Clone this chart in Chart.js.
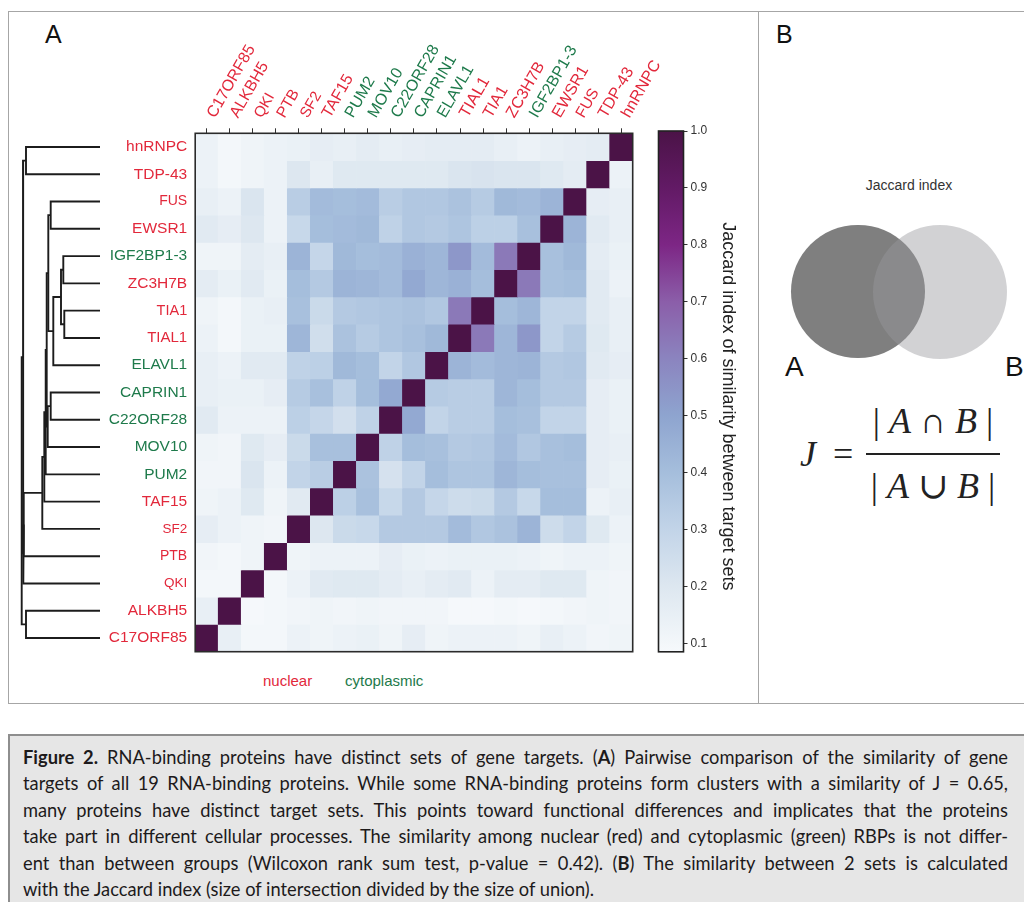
<!DOCTYPE html>
<html>
<head>
<meta charset="utf-8">
<script src="https://cdn.jsdelivr.net/npm/chart.js@4.4.1/dist/chart.umd.min.js"></script>
<style>
  html, body { margin: 0; padding: 0; background: #fff; width: 1024px; height: 902px; overflow: hidden; }
  body { position: relative; font-family: "Liberation Sans", Arial, sans-serif; color: #231f20; }
  .abs { position: absolute; }
  .t { position: absolute; line-height: 1; white-space: nowrap; }
  #boxA { left: 8px; top: 11px; width: 751px; height: 693px; border: 1.5px solid #a6a6a6; box-sizing: border-box; }
  #boxB { left: 757.5px; top: 11px; width: 300px; height: 693px; border: 1.5px solid #a6a6a6; box-sizing: border-box; }
  #caption { left: 8px; top: 734px; width: 1050px; height: 200px; background: #e6e6e6;
             border-top: 2px solid #8e8e8e; border-left: 2px solid #8e8e8e; box-sizing: border-box; }
  #captionText { position: absolute; left: 23px; top: 744px; width: 985px;
                 font-family: Lato, "Open Sans", sans-serif; font-size: 18.3px; color: #1d1a1b; }
  #captionText .ln { height: 26.4px; line-height: 26.4px; white-space: nowrap;
                     text-align: justify; text-align-last: justify; }
  #captionText .ln.last { text-align-last: left; }
  .circle { position: absolute; border-radius: 50%; }
  .math { position: absolute; line-height: 1; white-space: pre; font-family: "Liberation Serif", "DejaVu Serif", serif;
          font-size: 36px; color: #222; }
  .math i { font-style: italic; }
  canvas { position: absolute; }
</style>
</head>
<body>
<div id="boxA" class="abs"></div>
<div id="boxB" class="abs"></div>

<div class="t" style="left:45px; top:21.7px; font-size:25px; color:#111;">A</div>
<div class="t" style="left:776px; top:21.7px; font-size:25px; color:#111;">B</div>

<canvas id="dendro" width="110" height="662" style="left:0; top:0;"></canvas>
<canvas id="heat" width="700" height="662" style="left:0; top:0;"></canvas>
<canvas id="cbar" width="110" height="662" style="left:640px; top:0;"></canvas>

<div class="t" style="left:263px; top:673.3px; font-size:15px; color:#e2283b;">nuclear</div>
<div class="t" style="left:345px; top:673.3px; font-size:15px; color:#1e7a4b;">cytoplasmic</div>

<!-- panel B: Jaccard index schematic -->
<div class="t" style="left:809px; top:178px; width:200px; text-align:center; font-size:14px; color:#333;">Jaccard index</div>
<div class="circle" style="left:791.3px; top:225px; width:133.4px; height:133.4px; background:#7f7f7f;"></div>
<div class="circle" style="left:873px; top:224.7px; width:134px; height:134px; background:rgba(153,153,157,0.44);"></div>
<div class="t" style="left:785px; top:353.4px; font-size:28px; color:#111;">A</div>
<div class="t" style="left:1005px; top:353.4px; font-size:28px; color:#111;">B</div>

<div class="math" style="left:800px; top:435.5px;"><i>J</i></div>
<div class="math" style="left:833px; top:435.5px;">=</div>
<div class="math" style="left:866px; top:403px; width:134px; text-align:center;">| <i>A</i> &#8745; <i>B</i> |</div>
<div class="abs" style="left:866px; top:453.3px; width:134px; height:1.3px; background:#222;"></div>
<div class="math" style="left:866px; top:468px; width:134px; text-align:center;">| <i>A</i> &#8746; <i>B</i> |</div>

<div id="caption" class="abs"></div>
<div id="captionText">
  <div class="ln"><b>Figure 2.</b> RNA-binding proteins have distinct sets of gene targets. (<b>A</b>) Pairwise comparison of the similarity of gene</div>
  <div class="ln">targets of all 19 RNA-binding proteins. While some RNA-binding proteins form clusters with a similarity of J = 0.65,</div>
  <div class="ln">many proteins have distinct target sets. This points toward functional differences and implicates that the proteins</div>
  <div class="ln">take part in different cellular processes. The similarity among nuclear (red) and cytoplasmic (green) RBPs is not differ-</div>
  <div class="ln">ent than between groups (Wilcoxon rank sum test, p-value = 0.42). (<b>B</b>) The similarity between 2 sets is calculated</div>
  <div class="ln last">with the Jaccard index (size of intersection divided by the size of union).</div>
</div>

<script>
// ---- data -----------------------------------------------------------
// proteins in heatmap row order (top to bottom)
const rowNames = ['hnRNPC', 'TDP-43', 'FUS', 'EWSR1', 'IGF2BP1-3', 'ZC3H7B', 'TIA1', 'TIAL1', 'ELAVL1',
  'CAPRIN1', 'C22ORF28', 'MOV10', 'PUM2', 'TAF15', 'SF2', 'PTB', 'QKI', 'ALKBH5', 'C17ORF85'];
// column order (left to right)
const colNames = ['C17ORF85', 'ALKBH5', 'QKI', 'PTB', 'SF2', 'TAF15', 'PUM2', 'MOV10', 'C22ORF28',
  'CAPRIN1', 'ELAVL1', 'TIAL1', 'TIA1', 'ZC3H7B', 'IGF2BP1-3', 'EWSR1', 'FUS', 'TDP-43', 'hnRNPC'];
// cytoplasmic RBPs (all others are nuclear)
const cytoplasmic = ['IGF2BP1-3', 'ELAVL1', 'CAPRIN1', 'C22ORF28', 'MOV10', 'PUM2'];

// Jaccard index, one row per protein in rowNames, columns in colNames order
const jaccardRows = [
  [0.13, 0.10, 0.12, 0.13, 0.14, 0.16, 0.15, 0.17, 0.15, 0.16, 0.17, 0.17, 0.17, 0.15, 0.13, 0.15, 0.16, 0.17, 1.00],
  [0.13, 0.10, 0.12, 0.13, 0.20, 0.15, 0.19, 0.19, 0.19, 0.19, 0.19, 0.21, 0.22, 0.21, 0.21, 0.19, 0.17, 1.00, 0.13],
  [0.15, 0.13, 0.21, 0.13, 0.33, 0.41, 0.40, 0.41, 0.33, 0.36, 0.36, 0.38, 0.34, 0.42, 0.41, 0.44, 1.00, 0.16, 0.15],
  [0.18, 0.16, 0.20, 0.13, 0.28, 0.40, 0.41, 0.42, 0.31, 0.36, 0.35, 0.37, 0.32, 0.32, 0.39, 1.00, 0.44, 0.18, 0.15],
  [0.12, 0.12, 0.17, 0.15, 0.44, 0.29, 0.42, 0.40, 0.41, 0.45, 0.43, 0.54, 0.41, 0.63, 1.00, 0.39, 0.42, 0.17, 0.14],
  [0.17, 0.14, 0.18, 0.14, 0.40, 0.35, 0.44, 0.43, 0.41, 0.48, 0.43, 0.45, 0.40, 1.00, 0.63, 0.39, 0.40, 0.18, 0.13],
  [0.12, 0.10, 0.14, 0.15, 0.39, 0.27, 0.35, 0.36, 0.37, 0.38, 0.36, 0.63, 1.00, 0.40, 0.43, 0.30, 0.30, 0.18, 0.15],
  [0.13, 0.10, 0.14, 0.14, 0.43, 0.25, 0.38, 0.34, 0.37, 0.39, 0.42, 1.00, 0.63, 0.43, 0.54, 0.30, 0.34, 0.19, 0.15],
  [0.15, 0.13, 0.18, 0.18, 0.31, 0.32, 0.42, 0.40, 0.30, 0.36, 1.00, 0.44, 0.41, 0.43, 0.44, 0.35, 0.36, 0.18, 0.16],
  [0.15, 0.14, 0.14, 0.16, 0.34, 0.39, 0.31, 0.40, 0.48, 1.00, 0.34, 0.33, 0.33, 0.43, 0.40, 0.35, 0.35, 0.16, 0.14],
  [0.18, 0.13, 0.13, 0.13, 0.32, 0.29, 0.24, 0.31, 1.00, 0.48, 0.30, 0.33, 0.33, 0.40, 0.39, 0.30, 0.30, 0.16, 0.14],
  [0.12, 0.11, 0.19, 0.16, 0.27, 0.39, 0.39, 1.00, 0.31, 0.40, 0.39, 0.35, 0.36, 0.41, 0.36, 0.39, 0.40, 0.16, 0.15],
  [0.11, 0.11, 0.21, 0.13, 0.30, 0.33, 1.00, 0.38, 0.23, 0.30, 0.40, 0.37, 0.37, 0.43, 0.40, 0.39, 0.39, 0.16, 0.14],
  [0.12, 0.13, 0.19, 0.12, 0.18, 1.00, 0.32, 0.39, 0.28, 0.35, 0.29, 0.26, 0.27, 0.35, 0.28, 0.40, 0.40, 0.13, 0.15],
  [0.16, 0.13, 0.12, 0.11, 1.00, 0.20, 0.27, 0.28, 0.35, 0.35, 0.35, 0.41, 0.36, 0.38, 0.44, 0.26, 0.30, 0.19, 0.13],
  [0.11, 0.10, 0.12, 1.00, 0.12, 0.13, 0.13, 0.13, 0.16, 0.14, 0.13, 0.14, 0.14, 0.14, 0.13, 0.12, 0.13, 0.13, 0.12],
  [0.10, 0.10, 1.00, 0.10, 0.13, 0.18, 0.19, 0.19, 0.17, 0.15, 0.17, 0.18, 0.13, 0.17, 0.17, 0.19, 0.19, 0.12, 0.11],
  [0.15, 1.00, 0.09, 0.10, 0.11, 0.12, 0.11, 0.12, 0.11, 0.11, 0.11, 0.09, 0.09, 0.10, 0.09, 0.10, 0.11, 0.12, 0.11],
  [1.00, 0.15, 0.10, 0.10, 0.13, 0.12, 0.13, 0.14, 0.12, 0.16, 0.12, 0.13, 0.13, 0.13, 0.12, 0.15, 0.13, 0.11, 0.12]
];

// hierarchical clustering: [node, node, linkage distance]; merged nodes are named m0, m1, ...
const linkage = [
  ['FUS', 'EWSR1', 0.493],        // m0
  ['IGF2BP1-3', 'ZC3H7B', 0.367], // m1
  ['TIA1', 'TIAL1', 0.357],       // m2
  ['m1', 'm2', 0.390],            // m3
  ['m3', 'ELAVL1', 0.467],        // m4
  ['m0', 'm4', 0.517],            // m5
  ['CAPRIN1', 'C22ORF28', 0.493], // m6
  ['m6', 'MOV10', 0.523],         // m7
  ['m5', 'm7', 0.533],            // m8
  ['m8', 'PUM2', 0.543],          // m9
  ['m9', 'TAF15', 0.557],         // m10
  ['m10', 'SF2', 0.577],          // m11
  ['hnRNPC', 'TDP-43', 0.740],    // m12
  ['ALKBH5', 'C17ORF85', 0.740],  // m13
  ['m11', 'PTB', 0.763],          // m14
  ['m14', 'QKI', 0.767],          // m15
  ['m12', 'm15', 0.770],          // m16
  ['m16', 'm13', 0.783]           // m17
];

const colorbarTicks = [0.1, 0.2, 0.3, 0.4, 0.5, 0.6, 0.7, 0.8, 0.9, 1.0];
const colorbarMin = 0.085;
const colorbarMax = 1.0;

// ---- styles -----------------------------------------------------------
const RED = '#e2283b', GREEN = '#1e7a4b';
const labelFont = 'Liberation Sans';
const labelSize = { 'FUS': 14, 'SF2': 13.5, 'QKI': 13.5, 'PTB': 14, 'TIA1': 14.5, 'TIAL1': 15 };
const sizeOf = name => labelSize[name] || 15.5;
const topSizeOf = name => labelSize[name] ? labelSize[name] + 1.5 : 16;
const colorOf = name => cytoplasmic.includes(name) ? GREEN : RED;

const colorStops = [
  [0.085, '#f6f9fc'], [0.1, '#f3f7fa'], [0.2, '#dde7f0'], [0.3, '#c2d4e8'], [0.4, '#a5bedc'],
  [0.5, '#8ea4cf'], [0.6, '#8b84bf'], [0.7, '#8b5ea9'], [0.8, '#7d2685'], [0.9, '#621a65'], [1.0, '#4b1347']
];
function hexToRgb(h) { return [1, 3, 5].map(i => parseInt(h.slice(i, i + 2), 16)); }
function valueColor(v) {
  if (v <= colorStops[0][0]) return colorStops[0][1];
  for (let i = 1; i < colorStops.length; i++) {
    const [v1, c1] = colorStops[i];
    if (v <= v1) {
      const [v0, c0] = colorStops[i - 1];
      const t = (v - v0) / (v1 - v0);
      const a = hexToRgb(c0), b = hexToRgb(c1);
      const m = a.map((x, k) => Math.round(x + (b[k] - x) * t));
      return `rgb(${m[0]},${m[1]},${m[2]})`;
    }
  }
  return colorStops[colorStops.length - 1][1];
}

// ---- heatmap ------------------------------------------------------------
const frame = {
  id: 'frame',
  afterDatasetsDraw(chart) {
    const { left, top, width, height } = chart.chartArea;
    const ctx = chart.ctx;
    ctx.save();
    ctx.strokeStyle = '#2b2b2b';
    ctx.lineWidth = 1.6;
    ctx.strokeRect(left, top, width, height);
    ctx.restore();
  }
};

new Chart(document.getElementById('heat'), {
  type: 'bar',
  data: {
    labels: colNames,
    datasets: rowNames.map((name, r) => ({
      label: name,
      data: colNames.map(() => [r, r + 1]),
      backgroundColor: jaccardRows[r].map(valueColor),
      borderWidth: 0,
      grouped: false,
      barPercentage: 1,
      categoryPercentage: 1
    }))
  },
  options: {
    responsive: false,
    animation: false,
    events: [],
    layout: { padding: { left: 0, top: 0, right: 67.3, bottom: 10.3 } },
    plugins: { legend: { display: false }, tooltip: { enabled: false } },
    scales: {
      x: {
        type: 'category',
        position: 'top',
        offset: true,
        grid: { offset: false, drawOnChartArea: false, tickLength: 5, color: '#333', lineWidth: 1 },
        border: { display: false },
        ticks: {
          autoSkip: false, minRotation: 60, maxRotation: 60, padding: 7, labelOffset: 21,
          color: ctx => colorOf(colNames[ctx.index]),
          font: ctx => ({ family: labelFont, size: topSizeOf(colNames[ctx.index]) })
        },
        afterFit: s => { s.height = 133.3; s.paddingLeft = 0; s.paddingRight = 0; }
      },
      y: {
        type: 'linear',
        min: 0, max: rowNames.length, reverse: true,
        grid: { display: false, drawTicks: false },
        border: { display: false },
        afterBuildTicks: s => { s.ticks = rowNames.map((_, i) => ({ value: i + 0.5 })); },
        ticks: {
          autoSkip: false, padding: 8,
          callback: (v, i) => rowNames[i],
          color: ctx => colorOf(rowNames[ctx.index]),
          font: ctx => ({ family: labelFont, size: sizeOf(rowNames[ctx.index]) })
        },
        afterFit: s => { s.width = 195.2; s.paddingTop = 0; s.paddingBottom = 0; }
      }
    }
  },
  plugins: [frame]
});

// ---- dendrogram -----------------------------------------------------------
const nodePos = {};
rowNames.forEach((n, i) => { nodePos[n] = { h: 0, y: i + 0.5 }; });
const dendroSets = linkage.map(([a, b, h], k) => {
  const A = nodePos[a], B = nodePos[b];
  nodePos['m' + k] = { h, y: (A.y + B.y) / 2 };
  return {
    data: [{ x: A.h, y: A.y }, { x: h, y: A.y }, { x: h, y: B.y }, { x: B.h, y: B.y }],
    showLine: true, borderColor: '#1c1c1c', borderWidth: 1.9, pointRadius: 0,
    borderJoinStyle: 'miter', borderCapStyle: 'butt', tension: 0, clip: false
  };
});

new Chart(document.getElementById('dendro'), {
  type: 'scatter',
  data: { datasets: dendroSets },
  options: {
    responsive: false,
    animation: false,
    events: [],
    layout: { padding: { left: 20, right: 10, top: 133.3, bottom: 10.3 } },
    plugins: { legend: { display: false }, tooltip: { enabled: false } },
    scales: {
      x: { type: 'linear', min: 0, max: 0.8, reverse: true, display: false },
      y: { type: 'linear', min: 0, max: rowNames.length, reverse: true, display: false }
    }
  }
});

// ---- colour bar -----------------------------------------------------------
const gradientFill = {
  id: 'gradientFill',
  beforeDatasetsDraw(chart) {
    const y = chart.scales.y;
    const { left, top, width, height } = chart.chartArea;
    const ctx = chart.ctx;
    const y0 = y.getPixelForValue(y.max), y1 = y.getPixelForValue(y.min);
    const g = ctx.createLinearGradient(0, y0, 0, y1);
    colorStops.forEach(([v, c]) => {
      const t = (y.getPixelForValue(Math.max(v, y.min)) - y0) / (y1 - y0);
      g.addColorStop(Math.min(1, Math.max(0, t)), c);
    });
    ctx.save();
    ctx.fillStyle = g;
    ctx.fillRect(left, top, width, height);
    ctx.strokeStyle = '#222';
    ctx.lineWidth = 1.6;
    ctx.strokeRect(left, top, width, height);
    ctx.restore();
  }
};

new Chart(document.getElementById('cbar'), {
  type: 'bar',
  data: { labels: [''], datasets: [] },
  options: {
    responsive: false,
    animation: false,
    events: [],
    layout: { padding: { left: 18.5, top: 131, bottom: 10 } },
    plugins: { legend: { display: false }, tooltip: { enabled: false } },
    scales: {
      x: { display: false },
      y: {
        position: 'right',
        min: colorbarMin, max: colorbarMax,
        grid: { drawOnChartArea: false, tickLength: 4, color: '#333' },
        border: { display: false },
        afterBuildTicks: s => { s.ticks = colorbarTicks.map(v => ({ value: v })); },
        ticks: {
          padding: 3, color: '#333',
          font: { family: labelFont, size: 12 },
          callback: v => Number(v).toFixed(1)
        },
        title: {
          display: true,
          text: '      Jaccard index of similarity between target sets',
          color: '#222',
          font: { family: labelFont, size: 18 },
          padding: { top: 11.2, bottom: 0 }
        },
        afterFit: s => { s.width = 66.5; }
      }
    }
  },
  plugins: [gradientFill]
});
</script>
</body>
</html>
